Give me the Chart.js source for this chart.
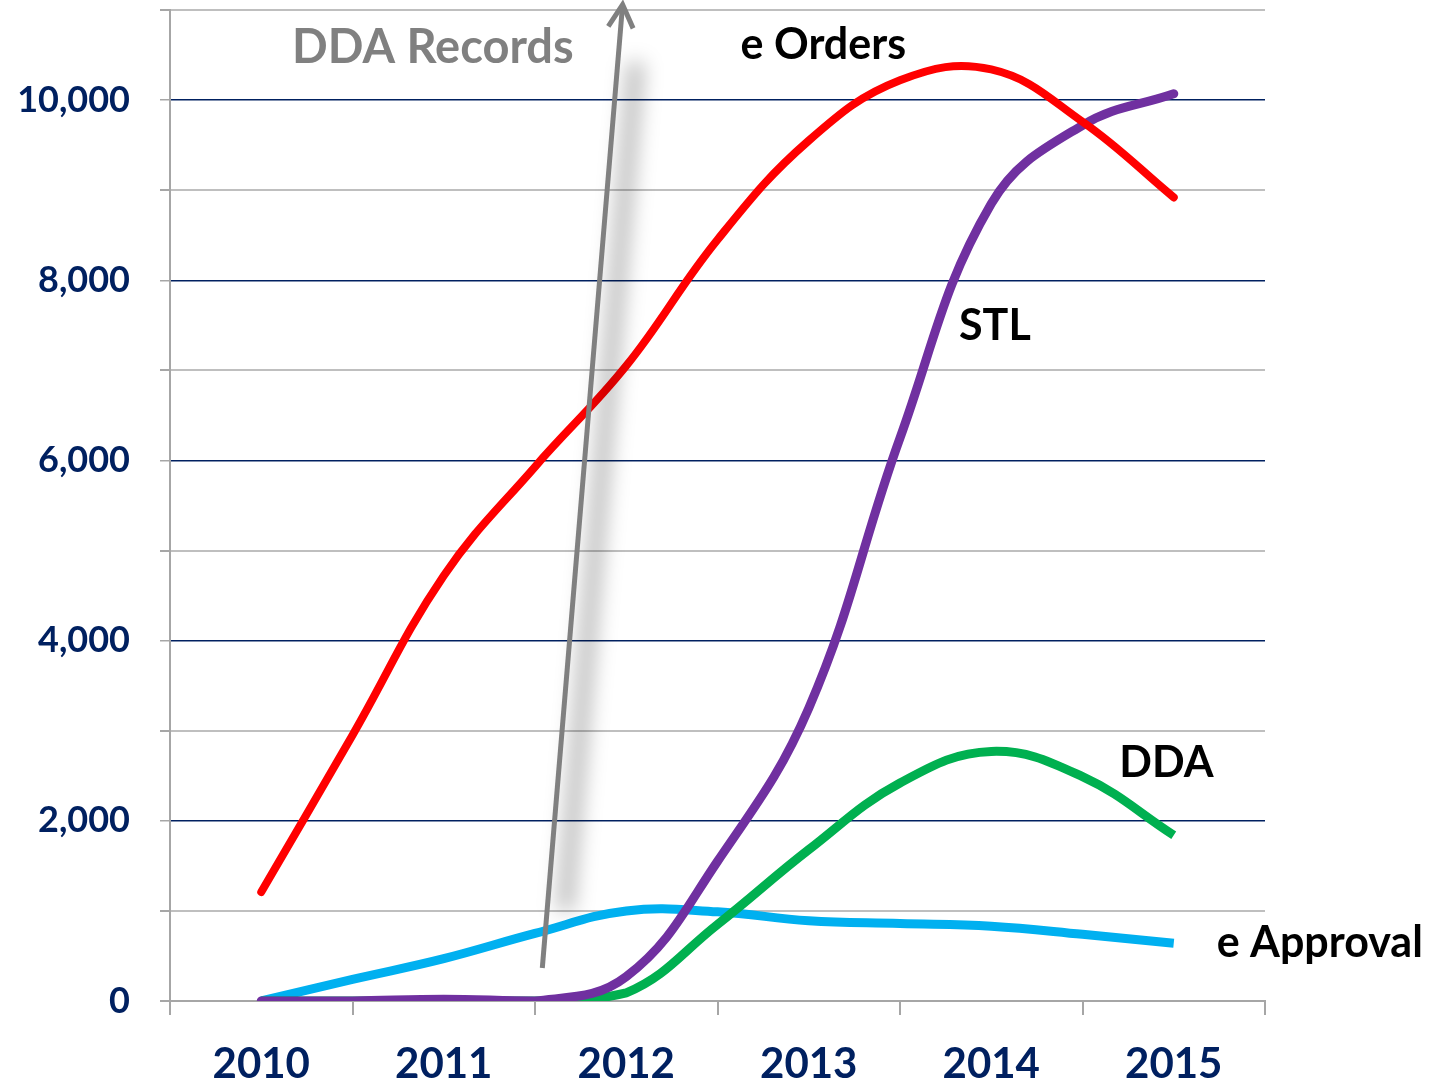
<!DOCTYPE html>
<html>
<head>
<meta charset="utf-8">
<title>DDA Records</title>
<script src="https://cdn.jsdelivr.net/npm/chart.js@4.4.1/dist/chart.umd.min.js"></script>
<style>
  html, body { margin: 0; padding: 0; background: #fff; }
  #wrap { width: 1437px; height: 1084px; }
</style>
</head>
<body>
<div id="wrap"><canvas id="ddaChart" width="1437" height="1084"></canvas></div>
<script>
// readings taken every half year
const xPos = [2010, 2010.5, 2011, 2011.5, 2012, 2012.5, 2013, 2013.5, 2014, 2014.5, 2015];
const yearLabels = ['2010', '2011', '2012', '2013', '2014', '2015'];

const eOrders   = [1210, 2950, 4720, 5930, 7050, 8450, 9550, 10220, 10340, 9760, 8920];
const stl       = [0, 0, 20, 0, 270, 1550, 3250, 6250, 8850, 9720, 10070];
const dda       = [0, 0, 0, 0, 90, 850, 1680, 2420, 2770, 2490, 1840];
const eApproval = [0, 240, 470, 750, 1000, 990, 890, 860, 830, 740, 640];

// series names written next to the lines (positions in data units)
const seriesNames = ['e Orders', 'STL', 'DDA', 'e Approval'];
const nameX = [2013.08, 2014.02, 2014.96, 2015.80];
const nameY = [10610, 7490, 2640, 643];

// "DDA Records" arrow and its caption
const arrowFrom = [2011.54, 366];
const arrowTo = [2011.98, 11060];
const captionPos = [2010.94, 10577];

const NAVY = '#002060';
const GRID_GRAY = '#BFBFBF';
const AXIS_GRAY = '#A6A6A6';

function toPoints(values) {
    return values.map((v, i) => ({ x: xPos[i], y: v }));
}

const annotations = {
    id: 'annotations',
    afterDatasetsDraw(chart) {
        const ctx = chart.ctx;
        const xs = chart.scales.x;
        const ys = chart.scales.y;
        const p0 = { x: xs.getPixelForValue(arrowFrom[0]), y: ys.getPixelForValue(arrowFrom[1]) };
        const p1 = { x: xs.getPixelForValue(arrowTo[0]), y: ys.getPixelForValue(arrowTo[1]) };
        const lerp = t => ({ x: p0.x + (p1.x - p0.x) * t, y: p0.y + (p1.y - p0.y) * t });

        // soft shadow to the right of the arrow
        ctx.save();
        ctx.filter = 'blur(10px)';
        ctx.strokeStyle = 'rgba(0,0,0,0.28)';
        ctx.lineWidth = 16;
        const a = lerp(0.06), b = lerp(0.94);
        ctx.beginPath();
        ctx.moveTo(a.x + 18, a.y);
        ctx.lineTo(b.x + 18, b.y);
        ctx.stroke();
        ctx.restore();

        // arrow
        ctx.save();
        ctx.strokeStyle = '#808080';
        ctx.lineWidth = 5;
        ctx.beginPath();
        ctx.moveTo(p0.x, p0.y);
        ctx.lineTo(p1.x, p1.y);
        ctx.stroke();
        const ang = Math.atan2(p0.y - p1.y, p0.x - p1.x);
        const len = 26, spread = 0.5;
        ctx.beginPath();
        ctx.moveTo(p1.x + len * Math.cos(ang - spread), p1.y + len * Math.sin(ang - spread));
        ctx.lineTo(p1.x, p1.y);
        ctx.lineTo(p1.x + len * Math.cos(ang + spread), p1.y + len * Math.sin(ang + spread));
        ctx.stroke();
        ctx.restore();

        // texts
        ctx.save();
        ctx.textAlign = 'center';
        ctx.textBaseline = 'middle';
        ctx.font = 'bold 47px Lato';
        ctx.fillStyle = '#808080';
        ctx.fillText('DDA Records', xs.getPixelForValue(captionPos[0]), ys.getPixelForValue(captionPos[1]));
        ctx.font = 'bold 43px Lato';
        ctx.fillStyle = '#000000';
        seriesNames.forEach((name, i) => {
            ctx.fillText(name, xs.getPixelForValue(nameX[i]), ys.getPixelForValue(nameY[i]));
        });
        ctx.restore();
    }
};

const lineStyle = {
    pointRadius: 0,
    tension: 0.4,
    fill: false,
    borderJoinStyle: 'round'
};

new Chart(document.getElementById('ddaChart'), {
    type: 'line',
    data: {
        datasets: [
            { label: 'e Orders', data: toPoints(eOrders), borderColor: '#FF0000', borderWidth: 8, borderCapStyle: 'round', ...lineStyle },
            { label: 'STL', data: toPoints(stl), borderColor: '#7030A0', borderWidth: 9, borderCapStyle: 'round', ...lineStyle },
            { label: 'DDA', data: toPoints(dda), borderColor: '#00B050', borderWidth: 9, borderCapStyle: 'butt', ...lineStyle },
            { label: 'e Approval', data: toPoints(eApproval), borderColor: '#00B0F0', borderWidth: 9, borderCapStyle: 'butt', ...lineStyle }
        ]
    },
    options: {
        responsive: false,
        animation: false,
        devicePixelRatio: 1,
        layout: { padding: { top: 10, right: 172, left: 0, bottom: 0 } },
        plugins: {
            legend: { display: false },
            tooltip: { enabled: false }
        },
        scales: {
            x: {
                type: 'linear',
                min: 2009.5,
                max: 2015.5,
                afterFit: scale => {
                    scale.height = 83;
                    scale.paddingLeft = 0;
                    scale.paddingRight = 0;
                },
                border: { display: true, color: AXIS_GRAY, width: 2 },
                grid: {
                    drawOnChartArea: false,
                    tickLength: 14,
                    lineWidth: 2,
                    color: ctx => Number.isInteger(ctx.tick.value) ? 'rgba(0,0,0,0)' : AXIS_GRAY
                },
                ticks: {
                    stepSize: 0.5,
                    autoSkip: false,
                    maxRotation: 0,
                    padding: 24,
                    color: NAVY,
                    font: { family: 'Lato', size: 42, weight: 'bold' },
                    callback: v => yearLabels.includes(String(v)) ? String(v) : ''
                }
            },
            y: {
                min: 0,
                max: 11000,
                afterFit: scale => {
                    scale.width = 170;
                    scale.paddingTop = 0;
                    scale.paddingBottom = 0;
                },
                border: { display: true, color: AXIS_GRAY, width: 2 },
                grid: {
                    tickLength: 10,
                    tickColor: AXIS_GRAY,
                    lineWidth: ctx => (ctx.tick.value % 2000 === 0 && ctx.tick.value !== 0) ? 1.5 : 2,
                    color: ctx => {
                        if (ctx.tick.value === 0) return AXIS_GRAY;
                        return ctx.tick.value % 2000 === 0 ? NAVY : GRID_GRAY;
                    }
                },
                ticks: {
                    stepSize: 1000,
                    padding: 30,
                    color: NAVY,
                    font: { family: 'Lato', size: 36, weight: 'bold' },
                    callback: v => v % 2000 === 0 ? v.toLocaleString('en-US') : ''
                }
            }
        }
    },
    plugins: [annotations]
});
</script>
</body>
</html>
